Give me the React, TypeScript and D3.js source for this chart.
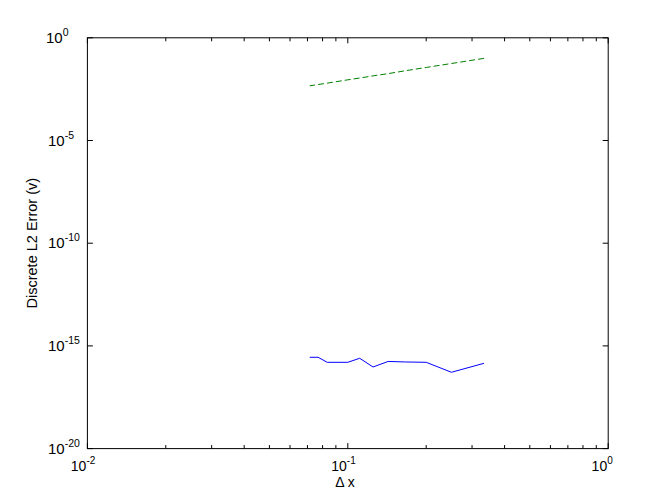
import React from "react";
import * as d3 from "d3";

const dx = [1/3, 1/4, 1/5, 1/6, 1/7, 1/8, 1/9, 1/10, 1/11, 1/12, 1/13, 1/14];
const errGreen = [0.1, 0.056, 0.036, 0.025, 0.018, 0.014, 0.011, 0.009, 0.0074, 0.0062, 0.0053, 0.0046];
const errBlue = [1.42e-16, 5.2e-17, 1.59e-16, 1.65e-16, 1.75e-16, 9.4e-17, 2.5e-16, 1.59e-16, 1.59e-16, 1.59e-16, 2.79e-16, 2.79e-16];
const xMajor = [-2, -1, 0];
const yMajor = [-20, -15, -10, -5, 0];

const W = 672, H = 504;
const L = 87.4, R = 608.2, T = 37.8, B = 448.6;

export default function App() {
  const x = d3.scaleLog().domain([0.01, 1]).range([L, R]);
  const y = d3.scaleLog().domain([1e-20, 1]).range([B, T]);
  const line = (ys: number[]) =>
    d3.line<number>().x((_, i) => x(dx[i])).y((v) => y(v))(ys) || "";
  const minorX: number[] = [];
  for (const e of [-2, -1]) for (let k = 2; k <= 9; k++) minorX.push(k * Math.pow(10, e));
  const font = "'Liberation Sans', Arial, Helvetica, sans-serif";
  return (
    <svg width={W} height={H} style={{ position: "absolute", left: 0, top: 0, background: "#fff" }} fontFamily={font}>
      <rect x={0} y={0} width={W} height={H} fill="#fff" />
      <path d={line(errGreen)} fill="none" stroke="#008000" strokeWidth={1} strokeDasharray="6,3" />
      <path d={line(errBlue)} fill="none" stroke="#0000ff" strokeWidth={1} />
      <rect x={L} y={T} width={R - L} height={B - T} fill="none" stroke="#000" strokeWidth={1} />
      {xMajor.map((e) => {
        const px = x(Math.pow(10, e));
        return (
          <g key={"xm" + e}>
            <line x1={px} x2={px} y1={B} y2={B - 5.5} stroke="#000" />
            <line x1={px} x2={px} y1={T} y2={T + 5.5} stroke="#000" />
            <text x={px - 1} y={471} fontSize={14} textAnchor="end">10</text>
            <text x={px - 1} y={464} fontSize={10}>{e}</text>
          </g>
        );
      })}
      {minorX.map((v, i) => (
        <g key={"xn" + i}>
          <line x1={x(v)} x2={x(v)} y1={B} y2={B - 3.5} stroke="#000" />
          <line x1={x(v)} x2={x(v)} y1={T} y2={T + 3.5} stroke="#000" />
        </g>
      ))}
      {yMajor.map((e) => {
        const py = y(Math.pow(10, e));
        const sx = e === 0 ? 46 : 48;
        return (
          <g key={"ym" + e}>
            <line x1={L} x2={L + 5.5} y1={py} y2={py} stroke="#000" />
            <line x1={R} x2={R - 5.5} y1={py} y2={py} stroke="#000" />
            <text x={sx} y={py + 5} fontSize={15}>
              10<tspan fontSize={10.5} dy={-7}>{e}</tspan>
            </text>
          </g>
        );
      })}
      <text x={345} y={487} fontSize={14} textAnchor="middle">Δ x</text>
      <text transform={`translate(37,${(T + B) / 2}) rotate(-90)`} fontSize={14.5} textAnchor="middle">Discrete L2 Error (v)</text>
    </svg>
  );
}
